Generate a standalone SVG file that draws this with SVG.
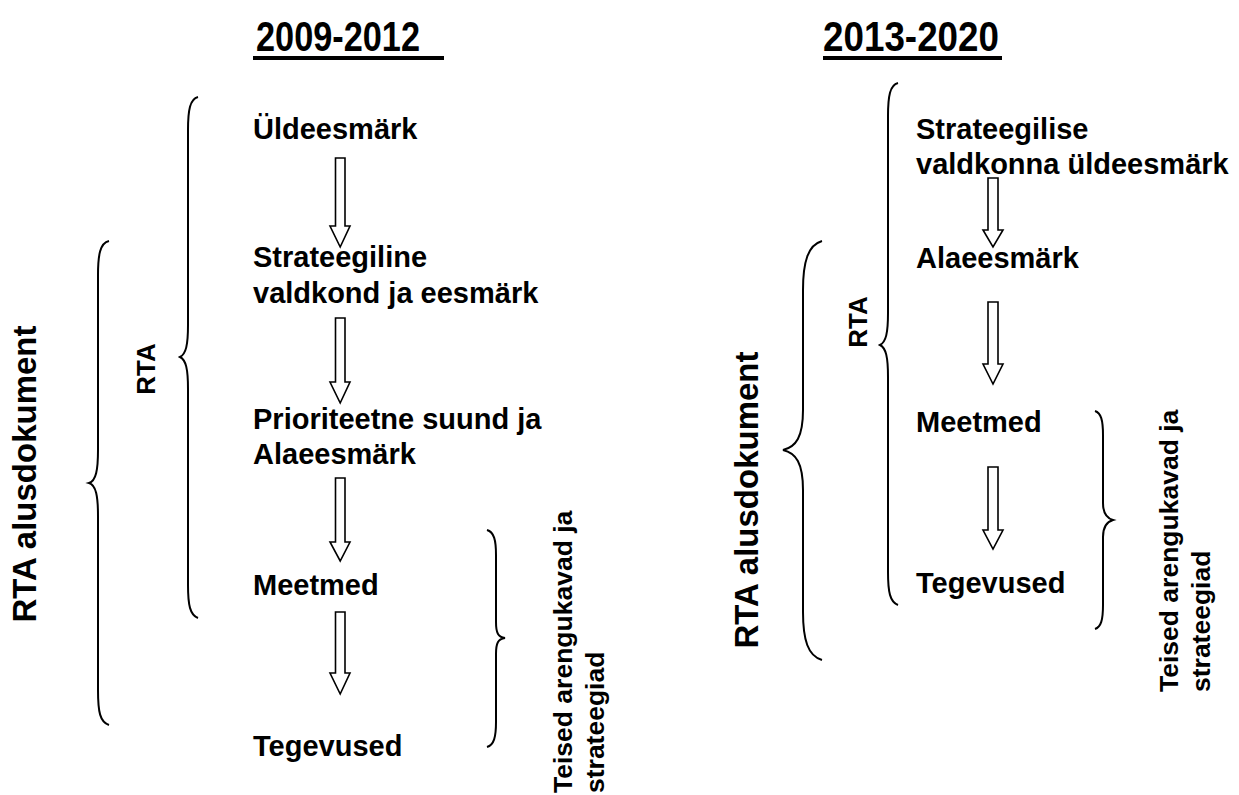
<svg xmlns="http://www.w3.org/2000/svg" width="1239" height="795" viewBox="0 0 1239 795">
<defs>
<style>
.t{font-family:"Liberation Sans",Arial,sans-serif;font-weight:bold;font-size:29px;fill:#000}
.big{font-size:33px}
.rta{font-size:26px}
.ts{font-size:26.5px}
.h{font-family:"Liberation Sans Narrow","Liberation Sans",Arial,sans-serif;font-weight:bold;font-size:43px;fill:#000}
.br{fill:none;stroke:#000;stroke-width:2}
.ar{fill:#fff;stroke:#000;stroke-width:1.6;stroke-linejoin:miter}
</style>
</defs>
<rect width="1239" height="795" fill="#fff"/>
<g id="titles">
<text class="h" x="256" y="51" textLength="164" lengthAdjust="spacingAndGlyphs">2009-2012</text>
<rect x="253" y="56" width="191" height="4" fill="#000"/>
<text class="h" x="823" y="51" textLength="176" lengthAdjust="spacingAndGlyphs">2013-2020</text>
<rect x="823" y="56" width="179" height="4" fill="#000"/>
</g>
<g id="left-nodes">
<g id="n-uldeesmark"><text class="t" x="253" y="139">Üldeesmärk</text></g>
<g id="n-strateegiline"><text class="t" x="253" y="267">Strateegiline</text><text class="t" x="253" y="303">valdkond ja eesmärk</text></g>
<g id="n-prioriteetne"><text class="t" x="253" y="429">Prioriteetne suund ja</text><text class="t" x="253" y="464">Alaeesmärk</text></g>
<g id="n-meetmed-l"><text class="t" x="253" y="595">Meetmed</text></g>
<g id="n-tegevused-l"><text class="t" x="253" y="756">Tegevused</text></g>
</g>
<g id="right-nodes">
<g id="n-strateegilise"><text class="t" x="916" y="139">Strateegilise</text><text class="t" x="916" y="174">valdkonna üldeesmärk</text></g>
<g id="n-alaeesmark-r"><text class="t" x="916" y="268">Alaeesmärk</text></g>
<g id="n-meetmed-r"><text class="t" x="916" y="432">Meetmed</text></g>
<g id="n-tegevused-r"><text class="t" x="916" y="593">Tegevused</text></g>
</g>
<g id="connectors">
<path class="ar" d="M335.5 158 H345 V226 H350 L340.2 247 L330 226 H335.5 Z"/>
<path class="ar" d="M335.5 318 H345 V382 H350 L340.2 403 L330 382 H335.5 Z"/>
<path class="ar" d="M335.5 478 H345 V542 H350 L340.2 561 L330 542 H335.5 Z"/>
<path class="ar" d="M335.5 612 H345 V673 H350 L340.2 694 L330 673 H335.5 Z"/>
<path class="ar" d="M988 178 H998 V230 H1003 L993 247 L983 230 H988 Z"/>
<path class="ar" d="M988 302 H998 V364 H1003 L993 384 L983 364 H988 Z"/>
<path class="ar" d="M988 467 H998 V530 H1003 L993 549 L983 530 H988 Z"/>
</g>
<g id="braces">
<path class="br" d="M109 241 C100 243 98 255 98 275 L98 450 C98 470 96 481 89 483 C96 485 98 496 98 516 L98 690 C98 712 100 722 109 725"/>
<path class="br" d="M198 97 C190 99 188 110 188 130 L188 325 C188 345 186 354 180 357 C186 360 188 369 188 389 L188 585 C188 605 190 615 198 618"/>
<path class="br" d="M487 530 C494 532 496 540 496 555 L496 622 C496 633 498 637 505 638 C498 639 496 643 496 654 L496 722 C496 737 494 745 487 747"/>
<path class="br" d="M898 83 C890 85 888 96 888 116 L888 313 C888 333 886 342 880 345 C886 348 888 357 888 377 L888 572 C888 592 890 602 898 605"/>
<path class="br" d="M822 241 C808 245 803 262 803 290 L803 410 C803 437 796 447 783 450 C796 453 803 463 803 490 L803 612 C803 640 808 656 822 660"/>
<path class="br" d="M1095 411 C1101 413 1103 420 1103 435 L1103 503 C1103 513 1106 518 1113 520 C1106 522 1103 527 1103 537 L1103 605 C1103 620 1101 627 1095 629"/>
</g>
<g id="labels">
<text class="t big" transform="translate(36 474) rotate(-90)" text-anchor="middle">RTA alusdokument</text>
<text class="t rta" transform="translate(155 369) rotate(-90)" text-anchor="middle">RTA</text>
<text class="t ts" transform="translate(572 793) rotate(-90)">Teised arengukavad ja</text>
<text class="t ts" transform="translate(604 793) rotate(-90)">strateegiad</text>
<text class="t big" transform="translate(758 500) rotate(-90)" text-anchor="middle">RTA alusdokument</text>
<text class="t rta" transform="translate(867 322) rotate(-90)" text-anchor="middle">RTA</text>
<text class="t ts" transform="translate(1178 692) rotate(-90)">Teised arengukavad ja</text>
<text class="t ts" transform="translate(1210 692) rotate(-90)">strateegiad</text>
</g>
</svg>
